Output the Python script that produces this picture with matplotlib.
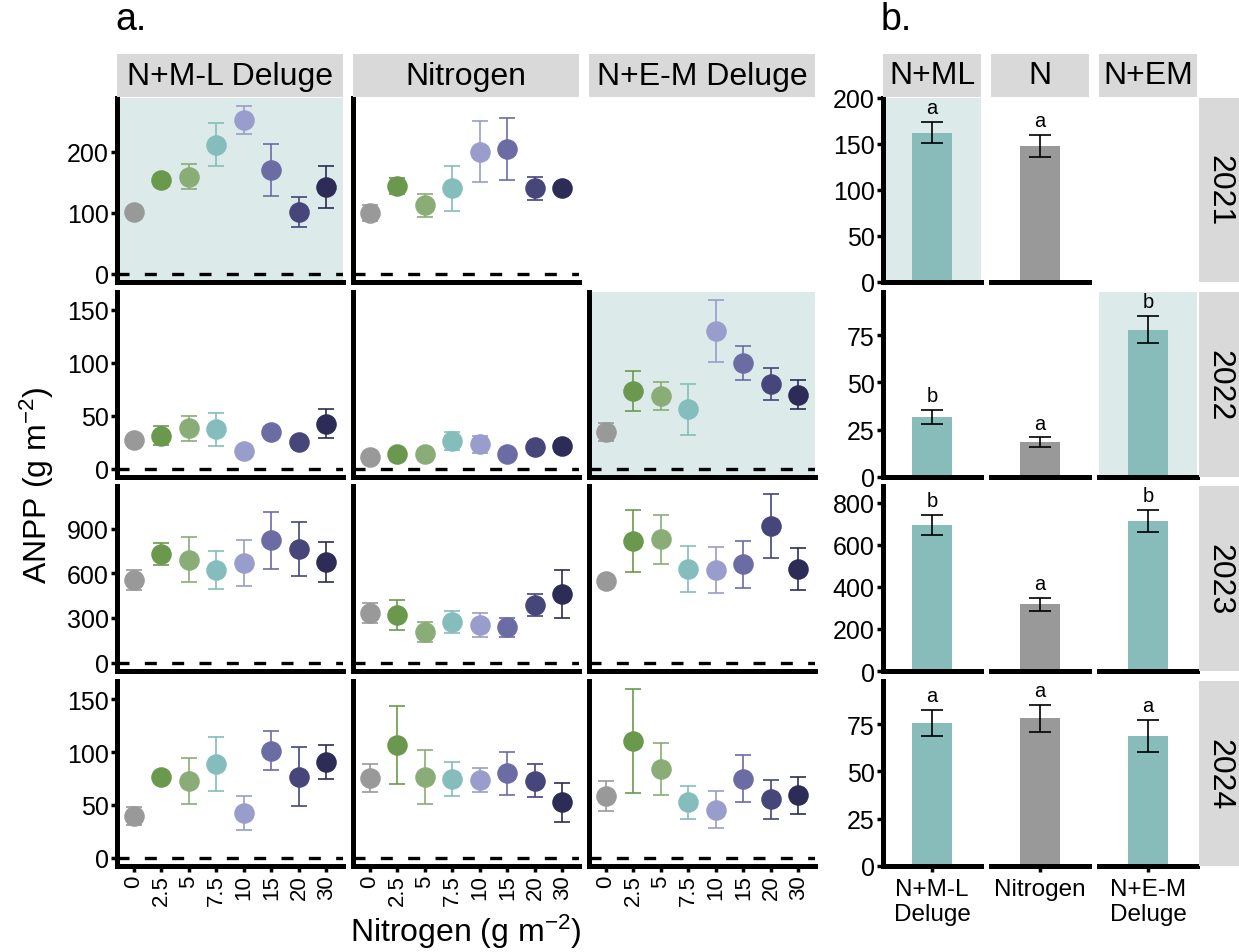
import matplotlib.pyplot as plt
import numpy as np

plt.rcParams['font.family'] = ['Liberation Sans', 'DejaVu Sans']
plt.rcParams['mathtext.default'] = 'regular'

W, H = 1239, 953

nitrogen_levels = ["0", "2.5", "5", "7.5", "10", "15", "20", "30"]
years = ["2021", "2022", "2023", "2024"]
treatments = ["N+M-L Deluge", "Nitrogen", "N+E-M Deluge"]
short_names = ["N+ML", "N", "N+EM"]
bar_labels = ["N+M-L\nDeluge", "Nitrogen", "N+E-M\nDeluge"]

# ANPP mean and standard error at each nitrogen level (panel a)
ml_2021_mean = [101, 154, 159, 211, 251, 170, 101, 142]
ml_2021_se = [4, 8, 21, 35, 23, 43, 24, 35]
n_2021_mean = [99, 144, 112, 140, 200, 204, 140, 140]
n_2021_se = [13, 13, 19, 37, 50, 51, 19, 4]

ml_2022_mean = [27.5, 31, 38, 37, 16.5, 34.5, 25, 42.5]
ml_2022_se = [3, 9, 12, 16, 3, 5, 3, 13.5]
n_2022_mean = [11, 14, 14, 26, 23, 14, 20, 21]
n_2022_se = [3, 3, 3, 8.5, 8, 3, 3, 5]
em_2022_mean = [34.5, 73.5, 68.5, 56, 130, 100, 80, 70]
em_2022_se = [8.5, 19, 13.5, 24, 29, 16, 15, 14]

ml_2023_mean = [554, 728, 692, 623, 668, 822, 762, 677]
ml_2023_se = [65, 73, 153, 126, 154, 192, 182, 134]
n_2023_mean = [332, 319, 205, 270, 252, 236, 386, 462]
n_2023_se = [67, 101, 65, 73, 80, 62, 76, 162]
em_2023_mean = [545, 815, 829, 630, 621, 659, 914, 630]
em_2023_se = [30, 210, 165, 154, 153, 157, 215, 141]

ml_2024_mean = [39.5, 76.5, 72.5, 88.5, 42.5, 101.5, 76.5, 90.5]
ml_2024_se = [8.5, 4, 21.5, 25.5, 16, 18.5, 28, 16]
n_2024_mean = [75.5, 106.5, 76.5, 74.5, 73.5, 80, 73, 52.5]
n_2024_se = [13.5, 37, 26, 16.5, 11.5, 20.5, 15.5, 18.5]
em_2024_mean = [58.5, 110.5, 84, 52.5, 45.5, 75, 55.5, 59]
em_2024_se = [14.5, 49, 25, 15.5, 17.5, 22.5, 18.5, 17.5]

# treatment means across nitrogen levels (panel b), None = not sampled
bar_2021_mean = [162.5, 147.5, None]
bar_2021_se = [11.3, 12, None]
bar_2021_letters = ["a", "a", ""]
bar_2022_mean = [31.8, 18.5, 77.8]
bar_2022_se = [3.7, 2.4, 7.2]
bar_2022_letters = ["b", "a", "b"]
bar_2023_mean = [695, 317, 714]
bar_2023_se = [47, 31, 52]
bar_2023_letters = ["b", "a", "b"]
bar_2024_mean = [75.5, 78, 68.5]
bar_2024_se = [6.8, 7, 8.5]
bar_2024_letters = ["a", "a", "a"]

dose_colors = ["#999999", "#6A994E", "#8AAD78", "#84BDBB",
               "#999DCB", "#6C6CA5", "#46467B", "#2C2C56"]
bar_colors = ["#87BCBB", "#999999", "#87BCBB"]
shade = "#DCEAEA"
strip_color = "#D9D9D9"

col_x = [(117, 343), (353, 579), (589, 815)]
col_xb = [(883, 981), (991, 1089), (1099, 1197)]
row_y = [(99, 283), (293, 478), (487, 672), (682, 867)]


def add_box(fig, x0, y0, x1, y1):
    return fig.add_axes([x0 / W, 1 - y1 / H, (x1 - x0) / W, (y1 - y0) / H])


def strip(fig, box, text, rotation=0):
    ax = add_box(fig, *box)
    ax.set_facecolor(strip_color)
    ax.set_xticks([])
    ax.set_yticks([])
    for s in ax.spines.values():
        s.set_visible(False)
    ax.text(0.5, 0.5, text, transform=ax.transAxes, ha='center',
            va='center', fontsize=23, rotation=rotation)


def style_axes(ax, left):
    for side in ['top', 'right']:
        ax.spines[side].set_visible(False)
    ax.spines['bottom'].set_linewidth(3.6)
    ax.spines['left'].set_linewidth(3.6)
    ax.spines['left'].set_visible(left)
    ax.tick_params(axis='both', length=4, width=2.5, labelsize=18,
                   pad=2, color='black')


def dose_panel(ax, means, ses, ylim, ticks, highlight, first_col, bottom_row):
    x = np.arange(1, 9)
    if highlight:
        ax.set_facecolor(shade)
    ax.axhline(0, color='black', lw=2.4, ls=(0, (3.6, 4.6)), zorder=1)
    for i in range(8):
        ax.errorbar(x[i], means[i], yerr=ses[i], fmt='o', color=dose_colors[i],
                    ms=13.8, elinewidth=1.2, capsize=5.5, capthick=1.2,
                    zorder=3)
    ax.set_xlim(0.4, 8.6)
    ax.set_ylim(*ylim)
    ax.set_yticks(ticks)
    style_axes(ax, True)
    if not first_col:
        ax.tick_params(axis='y', left=False, labelleft=False)
    if bottom_row:
        ax.set_xticks(x, nitrogen_levels, rotation=90, fontsize=16)
    else:
        ax.set_xticks([])


def bar_panel(ax, mean, se, letter, top, ticks, colour, highlight, first_col,
              bottom_row, label):
    if highlight:
        ax.set_facecolor(shade)
    ax.bar(1, mean, width=0.5, color=colour, zorder=2)
    ax.errorbar(1, mean, yerr=se, color='black', lw=1.2, capsize=8,
                capthick=1.2, zorder=3)
    ax.annotate(letter, (1, mean + se), xytext=(0, 3.5),
                textcoords='offset points', ha='center', va='bottom',
                fontsize=14.5)
    ax.set_xlim(0.4, 1.6)
    ax.set_ylim(0, top)
    ax.set_yticks(ticks)
    style_axes(ax, first_col)
    if not first_col:
        ax.tick_params(axis='y', left=False, labelleft=False)
    if bottom_row:
        ax.set_xticks([1], [label], fontsize=17.5, linespacing=1.15)
        ax.tick_params(axis='x', pad=5)
    else:
        ax.set_xticks([])


def main():
    fig = plt.figure(figsize=(W / 100, H / 100), dpi=100)

    dose_rows = [
        [(ml_2021_mean, ml_2021_se), (n_2021_mean, n_2021_se), None],
        [(ml_2022_mean, ml_2022_se), (n_2022_mean, n_2022_se), (em_2022_mean, em_2022_se)],
        [(ml_2023_mean, ml_2023_se), (n_2023_mean, n_2023_se), (em_2023_mean, em_2023_se)],
        [(ml_2024_mean, ml_2024_se), (n_2024_mean, n_2024_se), (em_2024_mean, em_2024_se)],
    ]
    dose_ticks = [[0, 100, 200], [0, 50, 100, 150], [0, 300, 600, 900], [0, 50, 100, 150]]
    highlighted = [(0, 0), (1, 2)]

    for r, row in enumerate(dose_rows):
        cells = [cell for cell in row if cell is not None]
        hi = max((np.array(m) + np.array(s)).max() for m, s in cells)
        ylim = (-0.05 * hi, 1.05 * hi)
        for c, cell in enumerate(row):
            if cell is None:
                continue
            ax = add_box(fig, col_x[c][0], row_y[r][0], col_x[c][1], row_y[r][1])
            dose_panel(ax, cell[0], cell[1], ylim, dose_ticks[r],
                       (r, c) in highlighted, c == 0, r == 3)

    for c in range(3):
        strip(fig, (col_x[c][0], 55, col_x[c][1], 98), treatments[c])

    bar_rows = [
        (bar_2021_mean, bar_2021_se, bar_2021_letters),
        (bar_2022_mean, bar_2022_se, bar_2022_letters),
        (bar_2023_mean, bar_2023_se, bar_2023_letters),
        (bar_2024_mean, bar_2024_se, bar_2024_letters),
    ]
    bar_ticks = [[0, 50, 100, 150, 200], [0, 25, 50, 75],
                 [0, 200, 400, 600, 800], [0, 25, 50, 75]]

    for r, (means, ses, letters) in enumerate(bar_rows):
        top = 1.15 * max(m + s for m, s in zip(means, ses) if m is not None)
        for c in range(3):
            if means[c] is None:
                continue
            ax = add_box(fig, col_xb[c][0], row_y[r][0], col_xb[c][1], row_y[r][1])
            bar_panel(ax, means[c], ses[c], letters[c], top, bar_ticks[r],
                      bar_colors[c], (r, c) in highlighted, c == 0, r == 3,
                      bar_labels[c])
        strip(fig, (1199, row_y[r][0], 1239, row_y[r][1]), years[r], rotation=270)

    for c in range(3):
        strip(fig, (col_xb[c][0], 55, col_xb[c][1], 98), short_names[c])

    fig.text(115 / W, 1 - 20 / H, "a.", fontsize=27, va='center')
    fig.text(881 / W, 1 - 20 / H, "b.", fontsize=27, va='center')
    fig.text(37 / W, 1 - 485 / H, r"ANPP (g m$^{-2}$)", fontsize=23,
             rotation=90, ha='center', va='center')
    fig.text(466 / W, 1 - 932 / H, r"Nitrogen (g m$^{-2}$)", fontsize=23,
             ha='center', va='center')

    fig.savefig('out.png', dpi=100)


if __name__ == "__main__":
    main()
